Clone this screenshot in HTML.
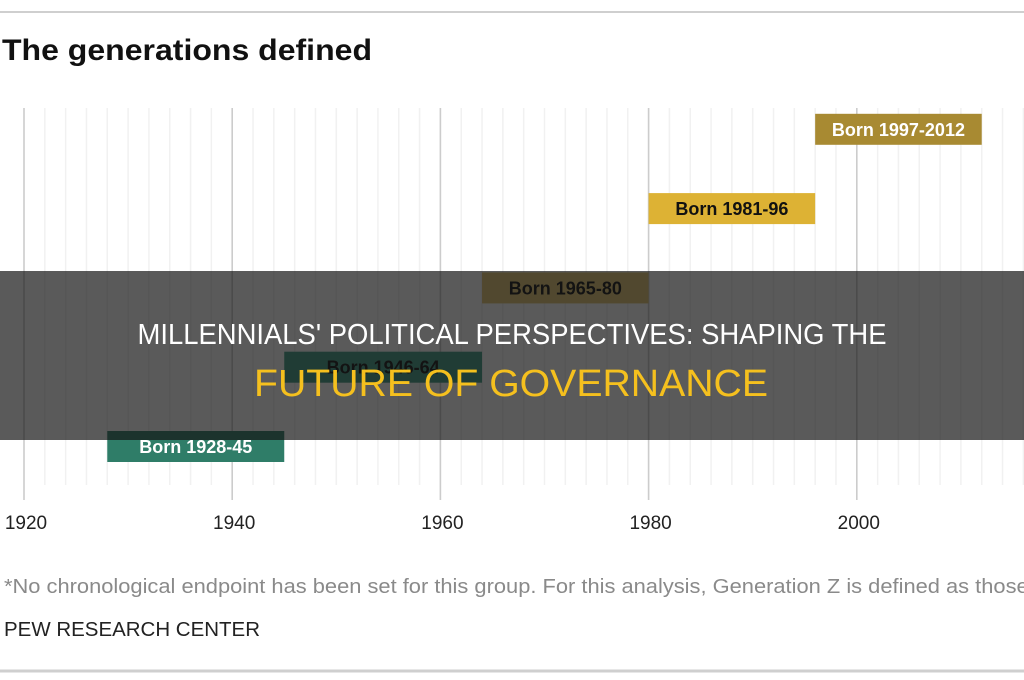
<!DOCTYPE html>
<html><head><meta charset="utf-8"><style>
html,body{margin:0;padding:0;background:#fff;}
svg{display:block;font-family:"Liberation Sans",sans-serif;}
</style></head><body>
<svg id="c" width="1024" height="680" viewBox="0 0 1024 680">
<line x1="0" y1="12" x2="1024" y2="12" stroke="#cfcfcf" stroke-width="2"/>
<text x="2" y="60" font-size="30" font-weight="bold" fill="#111" textLength="370" lengthAdjust="spacingAndGlyphs">The generations defined</text>
<g id="grid"></g>
<g id="bars"></g>
<g id="ticks"></g>
<text x="4" y="593" font-size="20" fill="#8a8a8a" textLength="1235" lengthAdjust="spacingAndGlyphs">*No chronological endpoint has been set for this group. For this analysis, Generation Z is defined as those ages 7 to 22 in 2019.</text>
<text x="4" y="636" font-size="20" fill="#222" textLength="256" lengthAdjust="spacingAndGlyphs">PEW RESEARCH CENTER</text>
<line x1="0" y1="671" x2="1024" y2="671" stroke="#cfcfcf" stroke-width="3"/>
<rect x="0" y="271" width="1024" height="169" fill="rgba(20,20,20,0.7)"/>
<text x="512" y="344" font-size="29" fill="#fff" text-anchor="middle" textLength="749" lengthAdjust="spacingAndGlyphs">MILLENNIALS' POLITICAL PERSPECTIVES: SHAPING THE</text>
<text x="511" y="396" font-size="38" fill="#f5c01e" text-anchor="middle" textLength="514" lengthAdjust="spacingAndGlyphs">FUTURE OF GOVERNANCE</text>
</svg>
<script>
const startYears=[1928,1946,1965,1981,1997];
const endYears=[1945,1964,1980,1996,2012];
const barLabels=["Born 1928-45","Born 1946-64","Born 1965-80","Born 1981-96","Born 1997-2012"];
const tickYears=[1920,1940,1960,1980,2000];
const NS="http://www.w3.org/2000/svg";
const x=y=>24+(y-1920)*10.41;
const rowY=i=>431-i*79.3;
const colors=["#2f7d68","#3f9b83","#e2c46e","#ddb234","#a88a32"];
const textColors=["#fff","#111","#111","#111","#fff"];
const grid=document.getElementById('grid');
for(let yr=1920;yr<=2020;yr+=2){
  const l=document.createElementNS(NS,'line');
  const major=yr%20===0;
  l.setAttribute('x1',x(yr));l.setAttribute('x2',x(yr));
  l.setAttribute('y1',108);l.setAttribute('y2',major?500:485);
  l.setAttribute('stroke',major?'#cccccc':'#f1f1f1');
  l.setAttribute('stroke-width',major?1.6:1.5);
  
  
  grid.appendChild(l);
}
const bars=document.getElementById('bars');
startYears.forEach((s,i)=>{
  const x0=i===0?x(s):x(endYears[i-1]);
  const x1=x(endYears[i]);
  const r=document.createElementNS(NS,'rect');
  r.setAttribute('x',x0);r.setAttribute('y',rowY(i));
  r.setAttribute('width',x1-x0);r.setAttribute('height',31);
  r.setAttribute('fill',colors[i]);
  
  
  bars.appendChild(r);
  const t=document.createElementNS(NS,'text');
  t.setAttribute('x',(x0+x1)/2);t.setAttribute('y',rowY(i)+22);
  t.setAttribute('text-anchor','middle');t.setAttribute('font-size','18');t.setAttribute('font-weight','bold');
  t.setAttribute('fill',textColors[i]);
  t.textContent=barLabels[i];
  
  
  bars.appendChild(t);
});
const ticks=document.getElementById('ticks');
tickYears.forEach(yr=>{
  const t=document.createElementNS(NS,'text');
  t.setAttribute('x',x(yr)+2);t.setAttribute('y',529);
  t.setAttribute('text-anchor','middle');t.setAttribute('font-size','19');t.setAttribute('fill','#222');
  t.textContent=yr;
  
  
  ticks.appendChild(t);
});
</script>
</body></html>
